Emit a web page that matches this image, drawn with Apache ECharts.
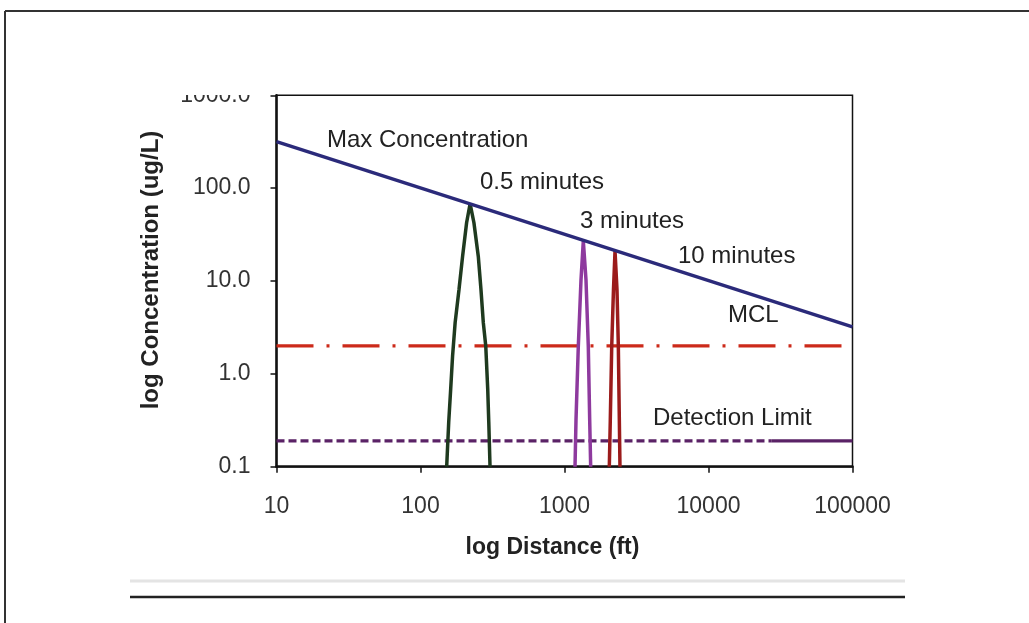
<!DOCTYPE html>
<html>
<head>
<meta charset="utf-8">
<script src="https://cdn.jsdelivr.net/npm/echarts@6/dist/echarts.min.js"></script>
<style>
html,body{margin:0;padding:0;background:#fff;}
#chart{width:1029px;height:623px;}
</style>
</head>
<body>
<div id="chart"></div>
<script>
// ---- data ----
var xTicks = [10, 100, 1000, 10000, 100000];
var xTickLabels = ['10', '100', '1000', '10000', '100000'];
var yTicks = [0.1, 1, 10, 100, 1000];
var yTickLabels = ['0.1', '1.0', '10.0', '100.0', '1000.0'];

var maxConcentration = [[10, 317], [100000, 3.2]];
var mclLine = [[10, 2.0], [100000, 2.0]];
var detectionDashed = [[10, 0.19], [27500, 0.19]];
var detectionSolid = [[27500, 0.19], [100000, 0.19]];

var peakHalfMinute = [[152, 0.1], [157, 0.3], [162, 0.68], [167, 1.55], [174, 3.56], [185, 8.06], [196, 18.4], [209, 42.4], [221, 68], [235, 42.4], [252, 18.4], [263, 8.06], [273, 3.56], [284, 1.98], [293, 0.68], [298, 0.3], [304, 0.1]];
var peakThreeMinutes = [[1183, 0.1], [1202, 0.32], [1247, 1.98], [1302, 10.3], [1351, 27], [1410, 10.3], [1463, 1.98], [1496, 0.32], [1520, 0.1]];
var peakTenMinutes = [[2047, 0.1], [2080, 0.32], [2128, 1.98], [2188, 8.06], [2243, 21], [2315, 8.06], [2365, 1.98], [2403, 0.32], [2428, 0.1]];

var annotations = ['Max Concentration', '0.5 minutes', '3 minutes', '10 minutes', 'MCL', 'Detection Limit'];

// ---- chart ----
var FONT = "'Liberation Sans', Arial, sans-serif";
var chart = echarts.init(document.getElementById('chart'));

function labelFor(ticks, labels) {
  return function (v) {
    for (var i = 0; i < ticks.length; i++) {
      if (Math.abs(Math.log10(v) - Math.log10(ticks[i])) < 1e-6) return labels[i];
    }
    return '';
  };
}

function lineSeries(name, data, color, width, type) {
  return {
    name: name, type: 'line', data: data, symbol: 'none', smooth: false,
    lineStyle: { color: color, width: width, type: type || 'solid' },
    z: 3, animation: false
  };
}

var annPos = [
  [327, 140], [480, 182], [580, 221], [678, 256], [728, 315], [653, 418]
];

var graphics = [
  { type: 'line', shape: { x1: 5, y1: 11, x2: 1029, y2: 11 }, style: { stroke: '#333', lineWidth: 2 }, z: 50 },
  { type: 'line', shape: { x1: 5, y1: 11, x2: 5, y2: 623 }, style: { stroke: '#333', lineWidth: 2 }, z: 50 },
  { type: 'line', shape: { x1: 130, y1: 581, x2: 905, y2: 581 }, style: { stroke: '#e4e4e4', lineWidth: 3 }, z: 1 },
  { type: 'line', shape: { x1: 130, y1: 597, x2: 905, y2: 597 }, style: { stroke: '#222', lineWidth: 2.5 }, z: 50 },
  { type: 'rect', shape: { x: 130, y: 13, width: 145, height: 82 }, style: { fill: '#fff' }, z: 100 }
];
for (var i = 0; i < annotations.length; i++) {
  graphics.push({
    type: 'text', x: annPos[i][0], y: annPos[i][1], z: 60,
    style: { text: annotations[i], font: '24px ' + FONT, fill: '#222', verticalAlign: 'middle', align: 'left' }
  });
}

chart.setOption({
  animation: false,
  backgroundColor: '#fff',
  grid: { left: 276.5, right: 176.5, top: 95.3, bottom: 156.3, show: true, borderColor: '#111', borderWidth: 1.5, backgroundColor: 'transparent' },
  xAxis: {
    type: 'log', logBase: 10, min: 10, max: 100000,
    name: 'log Distance (ft)', nameLocation: 'middle', nameGap: 69,
    nameTextStyle: { fontFamily: FONT, fontSize: 23, fontWeight: 'bold', color: '#222', padding: [0, 24, 0, 0] },
    axisLine: { show: true, lineStyle: { color: '#111', width: 2.5 } },
    axisTick: { show: true, inside: false, length: 6, lineStyle: { color: '#111', width: 1.5 } },
    minorTick: { show: false },
    splitLine: { show: false },
    axisLabel: { fontFamily: FONT, fontSize: 23, color: '#333', margin: 28, formatter: labelFor(xTicks, xTickLabels), showMinLabel: true, showMaxLabel: true }
  },
  yAxis: {
    type: 'log', logBase: 10, min: 0.1, max: 1000,
    name: 'log Concentration (ug/L)', nameLocation: 'middle', nameGap: 113,
    nameTextStyle: { fontFamily: FONT, fontSize: 24, fontWeight: 'bold', color: '#222', padding: [0, 0, 0, 22] },
    axisLine: { show: true, lineStyle: { color: '#111', width: 2.5 } },
    axisTick: { show: true, inside: false, length: 6, lineStyle: { color: '#111', width: 1.5 } },
    minorTick: { show: false },
    splitLine: { show: false },
    axisLabel: { fontFamily: FONT, fontSize: 23, color: '#333', margin: 26, formatter: labelFor(yTicks, yTickLabels), showMinLabel: true, showMaxLabel: true }
  },
  graphic: graphics,
  series: [
    lineSeries('MCL', mclLine, '#cc2a1a', 3.2, [37, 13, 3, 13]),
    lineSeries('Detection Limit (dashed)', detectionDashed, '#5a2266', 3.2, [8, 4]),
    lineSeries('Detection Limit', detectionSolid, '#5a2266', 3.2),
    lineSeries('0.5 minutes', peakHalfMinute, '#1f3a1f', 3.5),
    lineSeries('3 minutes', peakThreeMinutes, '#8e3a9e', 3.5),
    lineSeries('10 minutes', peakTenMinutes, '#9b1b1b', 3.5),
    lineSeries('Max Concentration', maxConcentration, '#2b2a7a', 3.5)
  ]
});
</script>
</body>
</html>
